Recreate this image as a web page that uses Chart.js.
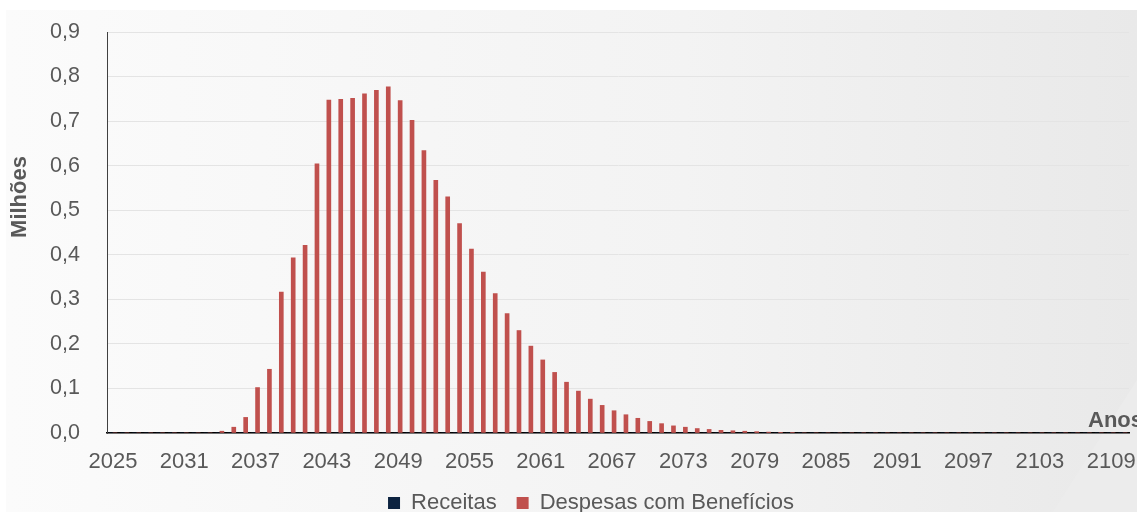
<!DOCTYPE html>
<html>
<head>
<meta charset="utf-8">
<script src="https://cdn.jsdelivr.net/npm/chart.js@4/dist/chart.umd.min.js"></script>
<style>
  html,body{margin:0;padding:0;background:#fff;overflow:hidden;width:1137px;height:512px;}
  #bg{position:absolute;left:6px;top:10px;right:0;bottom:0;background:linear-gradient(to right,#fbfbfb,#f3f3f3 60%,#e9e9e9);}
  #swoosh{position:absolute;left:0;top:0;width:1137px;height:512px;
    background:linear-gradient(120deg,#dedede,#ececec 70%);clip-path:polygon(1137px 380px,1137px 512px,1053px 512px);}
  #wrap{position:absolute;left:0;top:0;width:1182px;height:524px;}
</style>
</head>
<body>
<div id="bg"></div>
<div id="swoosh"></div>
<div id="wrap"><canvas id="c" width="1182" height="524"></canvas></div>
<script>
// Anos 2025..2110
const years = [
  2025,2026,2027,2028,2029,2030,2031,2032,2033,2034,2035,2036,2037,2038,2039,2040,2041,2042,2043,2044,
  2045,2046,2047,2048,2049,2050,2051,2052,2053,2054,2055,2056,2057,2058,2059,2060,2061,2062,2063,2064,
  2065,2066,2067,2068,2069,2070,2071,2072,2073,2074,2075,2076,2077,2078,2079,2080,2081,2082,2083,2084,
  2085,2086,2087,2088,2089,2090,2091,2092,2093,2094,2095,2096,2097,2098,2099,2100,2101,2102,2103,2104,
  2105,2106,2107,2108,2109,2110
];
// Receitas (milhões) - nulas no período
const receitas = [
  0,0,0,0,0,0,0,0,0,0,0,0,0,0,0,0,0,0,0,0,
  0,0,0,0,0,0,0,0,0,0,0,0,0,0,0,0,0,0,0,0,
  0,0,0,0,0,0,0,0,0,0,0,0,0,0,0,0,0,0,0,0,
  0,0,0,0,0,0,0,0,0,0,0,0,0,0,0,0,0,0,0,0,
  0,0,0,0,0,0
];
// Despesas com Benefícios (milhões)
const despesas = [
  0,0,0,0,0,0,0,0,0,0.004,0.013,0.035,0.102,0.143,0.316,0.393,0.421,0.604,0.747,0.749,
  0.751,0.761,0.769,0.777,0.746,0.702,0.634,0.567,0.530,0.470,0.413,0.361,0.313,0.268,0.230,0.195,0.164,0.136,0.114,0.094,
  0.076,0.062,0.050,0.041,0.033,0.026,0.021,0.016,0.013,0.010,0.008,0.006,0.005,0.004,0.003,0.002,0.0015,0.001,0,0,
  0,0,0,0,0,0,0,0,0,0,0,0,0,0,0,0,0,0,0,0,
  0,0,0,0,0,0
];
const yTicks = [0,0.1,0.2,0.3,0.4,0.5,0.6,0.7,0.8,0.9];

const FONT = "'Liberation Sans', Arial, sans-serif";
const GREY = "#595959";

// Títulos dos eixos desenhados à mão (posições do original)
const axisTitles = {id:"axisTitles",afterDraw(c){const {ctx,chartArea}=c;ctx.save();
  ctx.fillStyle=GREY;ctx.font=`bold 22px ${FONT}`;
  ctx.translate(20,197);ctx.rotate(-Math.PI/2);ctx.textAlign="center";ctx.textBaseline="middle";ctx.fillText("Milhões",0,0);
  ctx.setTransform(1,0,0,1,0,0);
  ctx.textAlign="left";ctx.textBaseline="middle";ctx.fillText("Anos",chartArea.right-41,421);
  ctx.restore();}};

new Chart(document.getElementById("c"),{
  type:"bar",
  data:{labels:years,datasets:[
    {label:"Receitas",data:receitas,backgroundColor:"#0c2340",barThickness:4},
    {label:"Despesas com Benefícios",data:despesas,backgroundColor:"#c0504d",barThickness:4}
  ]},
  options:{responsive:false,animation:false,
    layout:{padding:{top:32,right:0,left:0,bottom:0}},
    plugins:{tooltip:{enabled:false},
      legend:{position:"bottom",labels:{color:GREY,font:{family:FONT,size:22},boxWidth:12,boxHeight:12,padding:20}}},
    scales:{
      x:{z:1,grid:{display:false,drawTicks:false},border:{color:"#000",width:1.5},
        // the plot runs on past the cropped right edge; leave room for it
        afterFit:s=>{s.height=39;s.paddingLeft=0;s.paddingRight=53;},
        ticks:{autoSkip:false,maxRotation:0,minRotation:0,padding:16,color:GREY,font:{family:FONT,size:22},
          callback:(v,i)=>i%6===0?years[i]:""}},
      y:{min:0,max:0.9,afterBuildTicks:ax=>{ax.ticks=yTicks.map(v=>({value:v}));},
        afterFit:s=>{s.width=107;s.paddingTop=0;s.paddingBottom=0;},
        grid:{color:"#e4e4e4",drawTicks:false},border:{color:"#404040",width:1},
        ticks:{padding:27,color:GREY,font:{family:FONT,size:21.5},callback:v=>v.toFixed(1).replace(".",",")}}
    }},
  plugins:[axisTitles]
});
</script>
</body>
</html>
